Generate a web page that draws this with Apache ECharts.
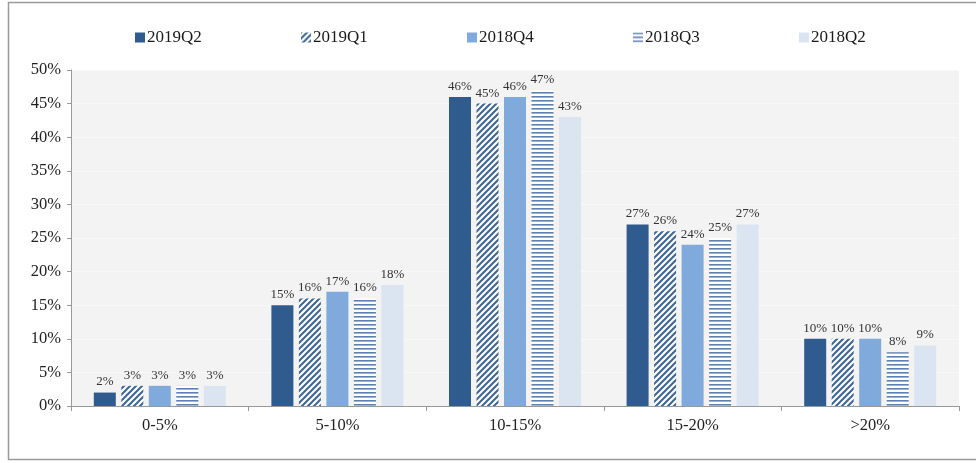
<!DOCTYPE html>
<html><head><meta charset="utf-8">
<script src="https://cdn.jsdelivr.net/npm/echarts@6/dist/echarts.min.js"></script>
<style>html,body{margin:0;padding:0;background:#fff}#c{width:976px;height:463px}</style>
</head><body><div id="c"></div>
<script>
var categories = ['0-5%', '5-10%', '10-15%', '15-20%', '>20%'];
var seriesNames = ['2019Q2', '2019Q1', '2018Q4', '2018Q3', '2018Q2'];
var s2019Q2 = [2, 15, 46, 27, 10];
var s2019Q1 = [3, 16, 45, 26, 10];
var s2018Q4 = [3, 17, 46, 24, 10];
var s2018Q3 = [3, 16, 47, 25, 8];
var s2018Q2 = [3, 18, 43, 27, 9];
var yTicks = [0, 5, 10, 15, 20, 25, 30, 35, 40, 45, 50];

function diagPattern(color) {
  var s = 6, c = document.createElement('canvas');
  c.width = s; c.height = s;
  var g = c.getContext('2d');
  g.fillStyle = '#ffffff'; g.fillRect(0, 0, s, s);
  g.strokeStyle = color; g.lineWidth = 2;
  g.beginPath();
  g.moveTo(0, s); g.lineTo(s, 0);
  g.moveTo(-s/2, s/2); g.lineTo(s/2, -s/2);
  g.moveTo(s/2, s*1.5); g.lineTo(s*1.5, s/2);
  g.stroke();
  return {image: c, repeat: 'repeat'};
}
function horizPattern(color) {
  var s = 4, c = document.createElement('canvas');
  c.width = s; c.height = s;
  var g = c.getContext('2d');
  g.fillStyle = '#ffffff'; g.fillRect(0, 0, s, s);
  g.fillStyle = color; g.fillRect(0, 0, s, 1.6);
  return {image: c, repeat: 'repeat'};
}

var colors = ['#2f5b8f', diagPattern('#3b6597'), '#80a9dc', horizPattern('#5b80b3'), '#dbe5f2'];
var datasets = [s2019Q2, s2019Q1, s2018Q4, s2018Q3, s2018Q2];
var font = 'Liberation Serif';

var legendLefts = [130, 296, 462, 628, 794];
var legends = seriesNames.map(function (n, i) {
  return {
    data: [n], left: legendLefts[i], top: 24, icon: 'rect',
    itemWidth: 10, itemHeight: 10, itemGap: 0,
    textStyle: {fontFamily: font, fontSize: 17, color: '#1a1a1a', padding: [0, 0, 0, -3]},
    selectedMode: false
  };
});

var series = seriesNames.map(function (n, i) {
  return {
    name: n, type: 'bar', data: datasets[i],
    barWidth: 22, barGap: '25%',
    itemStyle: {color: colors[i]},
    label: {show: true, position: 'top', distance: 4, formatter: '{c}%',
      fontFamily: font, fontSize: 13, color: '#333'}
  };
});

var chart = echarts.init(document.getElementById('c'), null, {renderer: 'canvas'});
chart.setOption({
  animation: false,
  legend: legends,
  graphic: [{type: 'rect', shape: {x: 8.5, y: 2.5, width: 1000, height: 457},
    style: {fill: 'none', stroke: '#9a9a9a', lineWidth: 1.5}, silent: true, z: -1}],
  grid: {left: 71, right: 17, top: 70, bottom: 57, show: true,
    backgroundColor: '#f3f3f3', borderWidth: 0},
  xAxis: {type: 'category', data: categories,
    axisLine: {lineStyle: {color: '#999'}},
    axisTick: {show: true, alignWithLabel: false, length: 5, lineStyle: {color: '#999'}},
    axisLabel: {fontFamily: font, fontSize: 16.5, color: '#222', margin: 11}},
  yAxis: {type: 'value', min: yTicks[0], max: yTicks[yTicks.length - 1], interval: 5,
    axisLine: {show: true, lineStyle: {color: '#999'}},
    axisTick: {show: true, length: 4, lineStyle: {color: '#999'}},
    splitLine: {show: true, lineStyle: {color: '#f8f8f8'}},
    axisLabel: {fontFamily: font, fontSize: 16.5, color: '#222', margin: 10, formatter: '{value}%'}},
  series: series
});
</script></body></html>
